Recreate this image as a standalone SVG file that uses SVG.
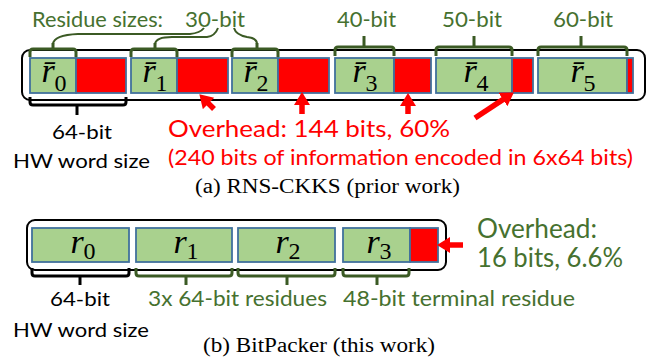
<svg xmlns="http://www.w3.org/2000/svg" width="651" height="358" viewBox="0 0 651 358">
  <style>
    .frame { fill: none; stroke: #000; stroke-width: 2; }
    .res { fill: #a9d18e; stroke: #41719c; stroke-width: 1.8; }
    .pad { fill: #ff0000; stroke: #41719c; stroke-width: 1.8; }
    .sans { font-family: Lato, "Open Sans", "Liberation Sans", sans-serif; }
    .cap { font-family: "Liberation Serif", "Times New Roman", serif; font-size: 20px; fill: #000; }
    .math { font-family: "Liberation Serif", "DejaVu Serif", serif; font-size: 34px; fill: #000; }
    .math .v { font-style: italic; }
    .math .sub { font-size: 24px; font-style: normal; }
    .gtxt { fill: #46712f; }
    .rtxt { fill: #ff0000; }
    .btxt { fill: #000; }
    .gbrace { fill: none; stroke: #3b5a24; stroke-width: 3; stroke-linejoin: round; }
    .kbrace { fill: none; stroke: #000; stroke-width: 3; stroke-linejoin: round; }
    .link { fill: none; stroke: #3b5a24; stroke-width: 2; }
    .arrow { stroke: #ff0000; stroke-width: 5.5; fill: none; marker-end: url(#head); }
  </style>
  <defs>
    <marker id="head" markerUnits="userSpaceOnUse" markerWidth="15" markerHeight="17" refX="3" refY="8" orient="auto">
      <path d="M0,0 L13,8 L0,16 z" fill="#ff0000"/>
    </marker>
  </defs>

  <!-- (a) RNS-CKKS: six 64-bit machine words -->
  <g id="rns-frame">
    <rect class="frame" x="22" y="50" width="623" height="50" rx="8"/>
  </g>
  <g id="rns-word0">
    <rect class="res" x="30" y="58" width="46" height="35"/>
    <rect class="pad" x="76" y="58" width="50" height="35"/>
    <text class="math" x="54" y="82" text-anchor="middle"><tspan class="v">r̄</tspan><tspan class="sub" dy="9">0</tspan></text>
  </g>
  <g id="rns-word1">
    <rect class="res" x="131" y="58" width="46" height="35"/>
    <rect class="pad" x="177" y="58" width="51" height="35"/>
    <text class="math" x="155" y="82" text-anchor="middle"><tspan class="v">r̄</tspan><tspan class="sub" dy="9">1</tspan></text>
  </g>
  <g id="rns-word2">
    <rect class="res" x="232" y="58" width="46" height="35"/>
    <rect class="pad" x="278" y="58" width="51" height="35"/>
    <text class="math" x="256" y="82" text-anchor="middle"><tspan class="v">r̄</tspan><tspan class="sub" dy="9">2</tspan></text>
  </g>
  <g id="rns-word3">
    <rect class="res" x="335" y="58" width="59" height="35"/>
    <rect class="pad" x="394" y="58" width="37" height="35"/>
    <text class="math" x="365" y="82" text-anchor="middle"><tspan class="v">r̄</tspan><tspan class="sub" dy="9">3</tspan></text>
  </g>
  <g id="rns-word4">
    <rect class="res" x="436" y="58" width="76" height="35"/>
    <rect class="pad" x="512" y="58" width="21" height="35"/>
    <text class="math" x="476" y="82" text-anchor="middle"><tspan class="v">r̄</tspan><tspan class="sub" dy="9">4</tspan></text>
  </g>
  <g id="rns-word5">
    <rect class="res" x="538" y="58" width="89" height="35"/>
    <rect class="pad" x="627" y="58" width="6" height="35"/>
    <text class="math" x="583" y="82" text-anchor="middle"><tspan class="v">r̄</tspan><tspan class="sub" dy="9">5</tspan></text>
  </g>

  <g id="rns-size-labels" class="sans gtxt" font-size="21">
    <text x="32" y="27" textLength="131" lengthAdjust="spacingAndGlyphs">Residue sizes:</text>
    <text x="185" y="27" textLength="60" lengthAdjust="spacingAndGlyphs">30-bit</text>
    <text x="337" y="27" textLength="59" lengthAdjust="spacingAndGlyphs">40-bit</text>
    <text x="442" y="27" textLength="60" lengthAdjust="spacingAndGlyphs">50-bit</text>
    <text x="553" y="27" textLength="60" lengthAdjust="spacingAndGlyphs">60-bit</text>
  </g>

  <g id="rns-word-label" class="sans btxt" font-size="20">
    <text x="52" y="139" textLength="60" lengthAdjust="spacingAndGlyphs">64-bit</text>
    <text x="13" y="168" textLength="137" lengthAdjust="spacingAndGlyphs">HW word size</text>
  </g>

  <g id="rns-overhead" class="sans rtxt">
    <text x="168" y="137" font-size="24" textLength="282" lengthAdjust="spacingAndGlyphs">Overhead: 144 bits, 60%</text>
    <text x="168" y="165" font-size="21" textLength="465" lengthAdjust="spacingAndGlyphs">(240 bits of information encoded in 6x64 bits)</text>
  </g>

  <text id="caption-a" class="cap" x="195" y="193" textLength="265" lengthAdjust="spacingAndGlyphs">(a) RNS-CKKS (prior work)</text>

  <!-- (b) BitPacker: four packed words -->
  <g id="bp-frame">
    <rect class="frame" x="27" y="220" width="419" height="50" rx="8"/>
  </g>
  <g id="bp-word0">
    <rect class="res" x="32" y="228" width="97" height="34"/>
    <text class="math" x="83" y="253" text-anchor="middle"><tspan class="v">r</tspan><tspan class="sub" dy="6">0</tspan></text>
  </g>
  <g id="bp-word1">
    <rect class="res" x="136" y="228" width="96" height="34"/>
    <text class="math" x="186" y="253" text-anchor="middle"><tspan class="v">r</tspan><tspan class="sub" dy="6">1</tspan></text>
  </g>
  <g id="bp-word2">
    <rect class="res" x="238" y="228" width="97" height="34"/>
    <text class="math" x="288" y="253" text-anchor="middle"><tspan class="v">r</tspan><tspan class="sub" dy="6">2</tspan></text>
  </g>
  <g id="bp-word3">
    <rect class="res" x="343" y="228" width="67" height="34"/>
    <rect class="pad" x="410" y="228" width="28" height="34"/>
    <text class="math" x="379" y="253" text-anchor="middle"><tspan class="v">r</tspan><tspan class="sub" dy="6">3</tspan></text>
  </g>

  <g id="bp-labels" class="sans" font-size="21">
    <text class="btxt" x="50" y="306" font-size="20" textLength="60" lengthAdjust="spacingAndGlyphs">64-bit</text>
    <text class="btxt" x="13" y="337" font-size="20" textLength="136" lengthAdjust="spacingAndGlyphs">HW word size</text>
    <text class="gtxt" x="148" y="306" textLength="179" lengthAdjust="spacingAndGlyphs">3x 64-bit residues</text>
    <text class="gtxt" x="343" y="306" textLength="232" lengthAdjust="spacingAndGlyphs">48-bit terminal residue</text>
  </g>
  <g id="bp-overhead" class="sans gtxt" font-size="26">
    <text x="477" y="238" textLength="120" lengthAdjust="spacingAndGlyphs">Overhead:</text>
    <text x="477" y="267" textLength="146" lengthAdjust="spacingAndGlyphs">16 bits, 6.6%</text>
  </g>

  <text id="caption-b" class="cap" x="203" y="352" textLength="232" lengthAdjust="spacingAndGlyphs">(b) BitPacker (this work)</text>

  <!-- braces, links and arrows -->
  <g id="connectors">
    <!-- residue-size braces above words -->
    <path class="gbrace" d="M30,57 L30,52 Q30,49 33,49 L73,49 Q76,49 76,52 L76,57 M53,49 L53,43"/>
    <path class="gbrace" d="M131,57 L131,52 Q131,49 134,49 L174,49 Q177,49 177,52 L177,57 M155,49 L155,43"/>
    <path class="gbrace" d="M232,57 L232,52 Q232,49 235,49 L275,49 Q278,49 278,52 L278,57 M257,49 L257,43"/>
    <path class="gbrace" d="M335,56 L335,50 Q335,47 338,47 L391,47 Q394,47 394,50 L394,56 M364,47 L364,36"/>
    <path class="gbrace" d="M436,56 L436,50 Q436,47 439,47 L509,47 Q512,47 512,50 L512,56 M474,47 L474,36"/>
    <path class="gbrace" d="M538,56 L538,50 Q538,47 541,47 L624,47 Q627,47 627,50 L627,56 M581,47 L581,36"/>
    <!-- links from the shared 30-bit label -->
    <path class="link" d="M53,44 Q54,35 78,34 L190,34 Q200,33 204,28"/>
    <path class="link" d="M155,44 Q156,37 172,37 L207,37 Q215,36 218,28"/>
    <path class="link" d="M257,44 Q257,38 247,37 Q236,35 234,28"/>
    <!-- word-size brace under first RNS word -->
    <path class="kbrace" d="M30,97 L30,102 Q30,105 33,105 L123,105 Q126,105 126,102 L126,97 M77,105 L77,115"/>
    <!-- overhead arrows -->
    <line class="arrow" x1="214" y1="109" x2="206.4" y2="101.4"/>
    <line class="arrow" x1="302" y1="114" x2="302" y2="102"/>
    <line class="arrow" x1="408" y1="114" x2="408" y2="103"/>
    <line class="arrow" x1="475" y1="118" x2="505.5" y2="97.9"/>
    <!-- braces under BitPacker words -->
    <path class="kbrace" d="M32,268 L32,273 Q32,276 35,276 L126,276 Q129,276 129,273 L129,268 M80,276 L80,285"/>
    <path class="gbrace" d="M136,268 L136,273 Q136,276 139,276 L229,276 Q232,276 232,273 L232,268 M186,276 L186,285"/>
    <path class="gbrace" d="M238,268 L238,273 Q238,276 241,276 L332,276 Q335,276 335,273 L335,268 M287,276 L287,285"/>
    <path class="gbrace" d="M343,268 L343,273 Q343,276 346,276 L406,276 Q409,276 409,273 L409,268 M377,276 L377,285"/>
    <line class="arrow" x1="463" y1="245" x2="447" y2="245"/>
  </g>
</svg>
